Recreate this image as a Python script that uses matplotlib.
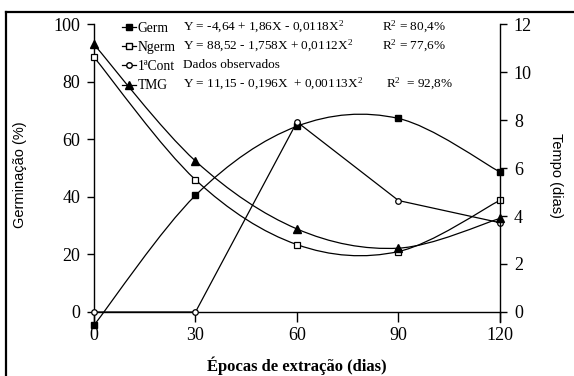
import matplotlib
matplotlib.use("Agg")
import matplotlib.pyplot as plt
from matplotlib.path import Path
from matplotlib.patches import PathPatch
from matplotlib.lines import Line2D

plt.rcParams['font.family'] = ['Liberation Serif', 'DejaVu Serif']
plt.rcParams['mathtext.fontset'] = 'custom'
plt.rcParams['mathtext.rm'] = 'Liberation Serif'
plt.rcParams['mathtext.it'] = 'Liberation Serif:italic'

# ---- data ----
epocas = [0, 30, 60, 90, 120]
germ = [-4.6, 40.5, 64.5, 67.2, 48.6]          # % (fitted)
ngerm = [88.5, 45.9, 23.4, 21.0, 38.8]         # % (fitted)
primeira_cont = [0, 0, 66.0, 38.7, 31.0]       # % (observed)
tmg = [11.15, 6.29, 3.46, 2.66, 3.90]          # dias (fitted)

series_names = ["Germ", "Ngerm", "1ªCont", "TMG"]
equations = [r"Y = -4,64 + 1,86X - 0,0118X$^{\mathrm{2}}$",
             r"Y = 88,52 - 1,758X + 0,0112X$^{\mathrm{2}}$",
             "Dados observados",
             r"Y = 11,15 - 0,196X  + 0,00113X$^{\mathrm{2}}$"]
r2_texts = [r"R$^{\mathrm{2}}$ = 80,4%", r"R$^{\mathrm{2}}$ = 77,6%", None,
            r"R$^{\mathrm{2}}$  = 92,8%"]
xticks = [0, 30, 60, 90, 120]
yticks_left = [0, 20, 40, 60, 80, 100]
yticks_right = [0, 2, 4, 6, 8, 10, 12]

W, H = 574, 376
fig = plt.figure(figsize=(W / 100, H / 100), dpi=100)

def fx(px):
    return px / W

def fy(py):
    return 1 - py / H

ax = fig.add_axes([fx(94), fy(322), (500 - 94) / W, (322 - 24) / H])
ax2 = ax.twinx()

ymin_left = -10 / 2.88
ax.set_xlim(0, 120)
ax.set_ylim(ymin_left, 100)
ax2.set_ylim(ymin_left * 0.12, 12)


def smooth_patch(axis, x, y, lw=0.9):
    n = len(x)
    verts = [(x[0], y[0])]
    codes = [Path.MOVETO]
    for i in range(n - 1):
        p0 = i - 1 if i > 0 else i
        p3 = i + 2 if i + 2 < n else i + 1
        c1 = (x[i] + (x[i + 1] - x[p0]) / 6, y[i] + (y[i + 1] - y[p0]) / 6)
        c2 = (x[i + 1] - (x[p3] - x[i]) / 6, y[i + 1] - (y[p3] - y[i]) / 6)
        verts += [c1, c2, (x[i + 1], y[i + 1])]
        codes += [Path.CURVE4] * 3
    patch = PathPatch(Path(verts, codes), fill=False, lw=lw, edgecolor='black',
                      clip_on=False)
    axis.add_patch(patch)

lw = 0.9
smooth_patch(ax, epocas, germ, lw)
smooth_patch(ax, epocas, ngerm, lw)
smooth_patch(ax2, epocas, tmg, lw)
ax.plot(epocas, primeira_cont, color='black', lw=lw, clip_on=False, zorder=3)

ax.plot(epocas, germ, ls='none', marker='s', ms=5, mfc='black', mec='black',
        clip_on=False, zorder=5)
ax.plot(epocas, ngerm, ls='none', marker='s', ms=4.5, mfc='white', mec='black',
        mew=0.9, clip_on=False, zorder=5)
ax.plot(epocas, primeira_cont, ls='none', marker='o', ms=4, mfc='white',
        mec='black', mew=0.9, clip_on=False, zorder=5)
ax2.plot(epocas, tmg, ls='none', marker='^', ms=5.5, mfc='black', mec='black',
         clip_on=False, zorder=5)

# spines & ticks
ax.spines['top'].set_visible(False)
ax.spines['right'].set_visible(False)
ax.spines['bottom'].set_position(('data', 0))
for s in ['top', 'left', 'bottom']:
    ax2.spines[s].set_visible(False)
for sp in [ax.spines['left'], ax.spines['bottom'], ax2.spines['right']]:
    sp.set_linewidth(1.0)

ax.set_xticks(xticks)
ax.set_yticks(yticks_left)
ax2.set_yticks(yticks_right)
ax.tick_params(axis='x', direction='out', length=7, width=1.0, pad=4, labelsize=13)
ax.tick_params(axis='y', direction='out', length=5, width=1.0, pad=5, labelsize=13)
ax2.tick_params(axis='y', direction='out', length=5, width=1.0, pad=5, labelsize=13)

# legend
handles = [
    Line2D([], [], color='black', lw=lw, marker='s', ms=5, mfc='black', mec='black'),
    Line2D([], [], color='black', lw=lw, marker='s', ms=4.5, mfc='white', mec='black'),
    Line2D([], [], color='black', lw=lw, marker='o', ms=4, mfc='white', mec='black'),
    Line2D([], [], color='black', lw=lw, marker='^', ms=5.5, mfc='black', mec='black'),
]
leg = ax2.legend(handles, series_names, loc='upper left',
                 bbox_to_anchor=(fx(122), fy(22)), bbox_transform=fig.transFigure,
                 frameon=False, fontsize=9.8, handlelength=1.0, handletextpad=0.15,
                 labelspacing=0.45, borderpad=0, borderaxespad=0)

row_y = [27, 46, 65, 84]
for i, eq in enumerate(equations):
    fig.text(fx(183), fy(row_y[i]), eq, fontsize=9.5, va='center', ha='left')
    if r2_texts[i] is not None:
        xr = 382 if i < 3 else 386
        fig.text(fx(xr), fy(row_y[i]), r2_texts[i], fontsize=9.5, va='center', ha='left')

# axis labels
fig.text(fx(20), fy(175), "Germinação (%)", rotation=90, va='center', ha='center',
         family=['Liberation Sans', 'DejaVu Sans'], fontsize=10.5)
fig.text(fx(556), fy(175), "Tempo (dias)", rotation=270, va='center', ha='center',
         family=['Liberation Sans', 'DejaVu Sans'], fontsize=10.5)
fig.text(fx(297), fy(366), "Épocas de extração (dias)", va='center', ha='center',
         fontsize=12, fontweight='bold')

# outer frame (top and left edges)
fig.add_artist(Line2D([fx(6), fx(6)], [0, fy(12)], transform=fig.transFigure,
                      color='black', lw=1.6))
fig.add_artist(Line2D([fx(6), 1], [fy(12), fy(12)], transform=fig.transFigure,
                      color='black', lw=1.6))

fig.savefig("out.png", dpi=100)
